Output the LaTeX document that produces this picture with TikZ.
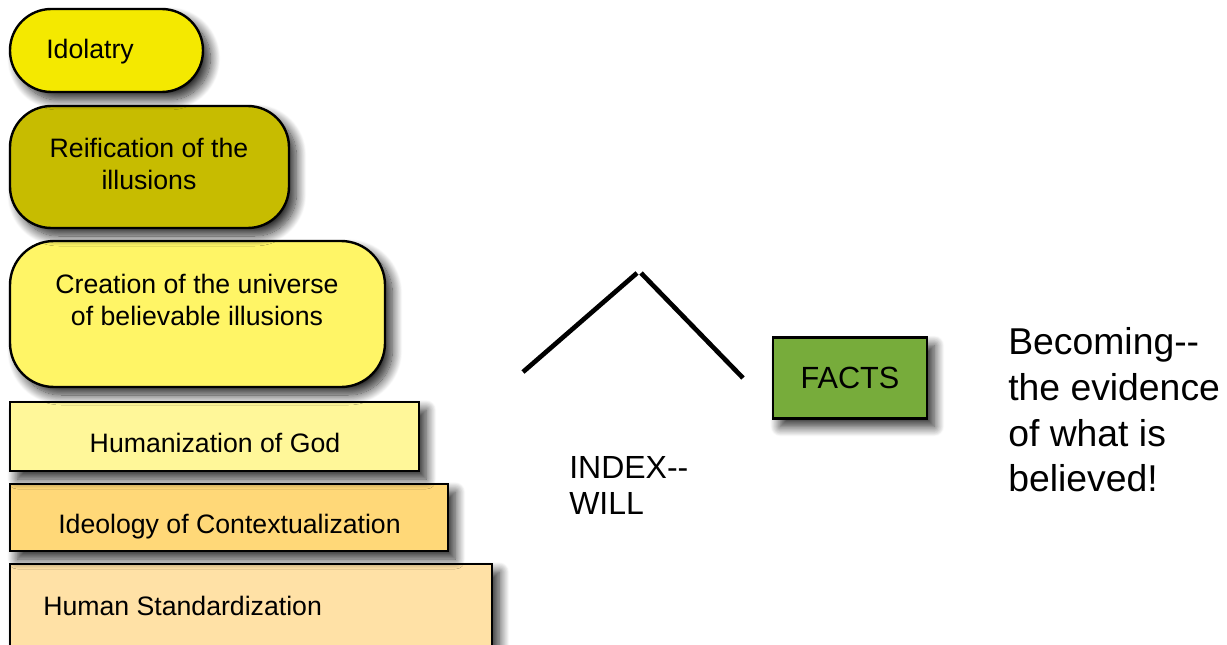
\documentclass[tikz,border=0pt]{standalone}
\usepackage{fontspec}
\setmainfont{Liberation Sans}
\usetikzlibrary{shadows.blur}

\definecolor{idolc}{HTML}{F4E900}
\definecolor{reifc}{HTML}{C7BC00}
\definecolor{creac}{HTML}{FFF566}
\definecolor{humac}{HTML}{FFF799}
\definecolor{ideoc}{HTML}{FFD878}
\definecolor{stanc}{HTML}{FFE1A6}
\definecolor{factc}{HTML}{77AC3B}

\tikzset{
  tier/.style={draw=black, line width=1.8pt, inner sep=0pt,
    blur shadow={shadow xshift=5.5pt, shadow yshift=-6pt, shadow blur radius=7.5pt, shadow blur steps=16, shadow opacity=85}},
  boxtext/.style={font=\fontsize{20}{24}\selectfont, align=center, inner sep=0pt},
}

\begin{document}
\begin{tikzpicture}[x=0.75pt, y=-0.75pt]
  \useasboundingbox (0,0) rectangle (1227,645);
  \clip (0,0) rectangle (1227,645);

  % stacked tiers, bottom to top
  \node[tier, fill=stanc, minimum width=361.5pt, minimum height=72pt] (stan) at (251,612) {};
  \node[tier, fill=ideoc, minimum width=328.5pt, minimum height=50.25pt] (ideo) at (229,517.5) {};
  \node[tier, fill=humac, minimum width=306.75pt, minimum height=51.75pt] (huma) at (214.5,436.5) {};
  \node[tier, fill=creac, rounded corners=33pt, minimum width=281.25pt, minimum height=109.5pt] (crea) at (197.5,314) {};
  \node[tier, fill=reifc, rounded corners=31pt, minimum width=209.25pt, minimum height=91.5pt] (reif) at (149.5,167) {};
  \node[tier, fill=idolc, rounded corners=31pt, minimum width=144.75pt, minimum height=62.25pt] (idol) at (106.5,50.5) {};

  % tier labels
  \node[boxtext] (idolt) at (90,52) {Idolatry};
  \node[boxtext] (reift) at (149,164) {Reification of the\\illusions};
  \node[boxtext] (creat) at (197,300) {Creation of the universe\\of believable illusions};
  \node[boxtext] (humat) at (215,443) {Humanization of God};
  \node[boxtext] (ideot) at (229.5,527) {Ideology of Contextualization};
  \node[boxtext, anchor=west] (stant) at (43,606) {Human Standardization};

  % caret
  \coordinate (cl) at (523,372);
  \coordinate (ct1) at (637,273);
  \coordinate (ct2) at (641,273);
  \coordinate (cr) at (743,378);
  \draw[line width=3.5pt] (cl) -- (ct1);
  \draw[line width=3.5pt] (ct2) -- (cr);

  \node[font=\fontsize{24}{27}\selectfont, align=left, inner sep=0pt, anchor=west] (index) at (569,485) {INDEX-{}-\\WILL};

  % facts box
  \node[tier, fill=factc, minimum width=115.5pt, minimum height=60.75pt, font=\fontsize{23}{27}\selectfont] (facts) at (850,378) {FACTS};

  \node[font=\fontsize{28}{34.3}\selectfont, align=left, inner sep=0pt, anchor=west] (becom) at (1008,410) {Becoming-{}-\\the evidence\\of what is\\believed!};
\end{tikzpicture}
\end{document}
